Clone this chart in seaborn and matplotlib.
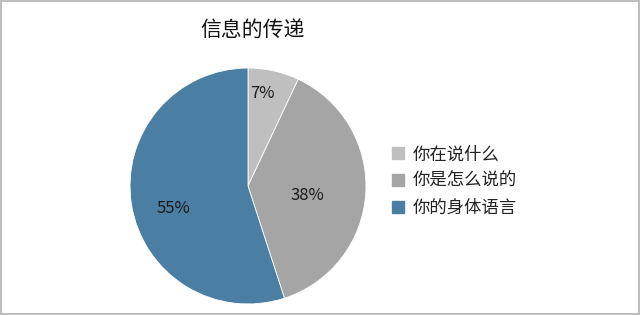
import matplotlib
matplotlib.use("Agg")
import matplotlib.pyplot as plt
import matplotlib.patches as mpatches
import seaborn as sns
import numpy as np

sns.set_theme(style="white")
plt.rcParams['font.family'] = ['Noto Sans CJK SC', 'DejaVu Sans']

title = "信息的传递"
categories = ["你在说什么", "你是怎么说的", "你的身体语言"]
values = [7, 38, 55]
colors = ["#BFBFBF", "#A5A5A5", "#4A7EA2"]
label_dist = [0.80, 0.50, 0.64]
label_shift = [(-0.05, 0.0), (0.0, -0.05), (0.0, -0.09)]

fig = plt.figure(figsize=(6.4, 3.15), dpi=100)
fig.patch.set_facecolor("white")
ax = fig.add_axes([0.203, 0.035, 0.369, 0.749])

wedges, texts, autotexts = ax.pie(
    values, colors=colors, startangle=90, counterclock=False,
    autopct=lambda p: f"{p:.0f}%", pctdistance=0.6,
    wedgeprops=dict(linewidth=0.6, edgecolor="white"),
    textprops=dict(fontsize=12, color="#1a1a1a"),
)
for w, t, d, (sx, sy) in zip(wedges, autotexts, label_dist, label_shift):
    ang = np.deg2rad((w.theta1 + w.theta2) / 2)
    t.set_position((d * np.cos(ang) + sx, d * np.sin(ang) + sy))
ax.set_aspect("equal")
ax.set_xlim(-1, 1)
ax.set_ylim(-1, 1)

fig.text(0.394, 0.905, title, fontsize=15, ha="center", va="center", color="#111111")

handles = [mpatches.Patch(color=c, label=l) for c, l in zip(colors, categories)]
fig.legend(handles=handles, loc="center left", bbox_to_anchor=(0.588, 0.425),
           frameon=False, fontsize=12.5, handlelength=0.7, handleheight=0.7,
           handletextpad=0.5, labelspacing=0.5, labelcolor="#222222")

fig.add_artist(mpatches.Rectangle((0.002, 0.003), 0.996, 0.994, transform=fig.transFigure,
                                  fill=False, edgecolor="#BFBFBF", linewidth=1.5))

fig.savefig("out.png", dpi=100)
